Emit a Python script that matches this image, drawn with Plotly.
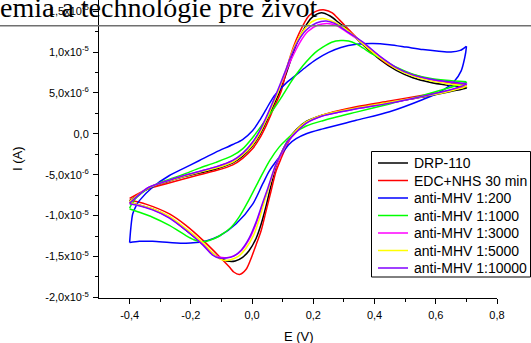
import numpy as np
import plotly.graph_objects as go

# ---------------- data (E in V, I in µA; each list is one closed CV loop) ----------------
series_names = ["DRP-110", "EDC+NHS 30 min", "anti-MHV 1:200", "anti-MHV 1:1000",
                "anti-MHV 1:3000", "anti-MHV 1:5000", "anti-MHV 1:10000"]
series_colors = ["#000000", "#FF0000", "#0000FF", "#00FF00", "#FF00FF", "#FFFF00", "#8000FF"]

E_drp = [-0.400, -0.340, -0.280, -0.227, -0.172, -0.118, -0.063, -0.031, 0.002, 0.024, 0.046, 0.068,
         0.092, 0.119, 0.140, 0.166, 0.195, 0.226, 0.255, 0.286, 0.307, 0.362, 0.417, 0.471, 0.525,
         0.580, 0.634, 0.700,
         0.700, 0.645, 0.558, 0.449, 0.340, 0.231, 0.177, 0.144, 0.122, 0.100, 0.078, 0.062, 0.046,
         0.030, 0.013, -0.010, -0.031, -0.055, -0.074, -0.095, -0.120, -0.161, -0.216, -0.270,
         -0.325, -0.379, -0.400]
I_drp = [-8.2, -6.7, -5.9, -5.3, -4.8, -4.3, -3.55, -2.75, -1.45, -0.2, 1.45, 3.3,
         5.3, 8.2, 10.5, 12.6, 14.2, 14.8, 14.4, 13.5, 12.9, 10.9, 9.1, 7.75, 6.85,
         6.3, 5.95, 5.65,
         5.6, 5.15, 4.5, 3.85, 3.2, 2.3, 1.5, 0.5, -0.5, -2.0, -4.0, -6.3, -8.8,
         -11.0, -12.8, -14.3, -15.1, -15.55, -15.6, -15.4, -14.9, -13.5, -11.8, -10.2,
         -9.2, -8.6, -8.35]

E_edc = [-0.400, -0.340, -0.280, -0.227, -0.172, -0.118, -0.063, -0.031, 0.002, 0.024, 0.046, 0.068,
         0.095, 0.115, 0.135, 0.155, 0.185, 0.210, 0.237, 0.262, 0.286, 0.307, 0.340, 0.395, 0.449,
         0.504, 0.558, 0.613, 0.660, 0.700,
         0.700, 0.645, 0.558, 0.449, 0.340, 0.231, 0.187, 0.155, 0.133, 0.115, 0.095, 0.078, 0.062,
         0.046, 0.030, 0.013, -0.005, -0.020, -0.041, -0.060, -0.074, -0.107, -0.161, -0.216,
         -0.270, -0.347, -0.400]
I_edc = [-7.9, -6.75, -6.1, -5.55, -5.0, -4.5, -3.8, -3.0, -1.8, -0.6, 1.0, 2.9,
         5.2, 8.2, 10.6, 12.4, 14.4, 15.0, 15.15, 14.8, 13.9, 13.1, 11.8, 9.9, 8.4,
         7.5, 6.9, 6.45, 6.15, 5.9,
         5.9, 5.3, 4.7, 4.0, 3.3, 2.3, 1.6, 0.8, -0.1, -1.3, -3.0, -4.6, -7.0,
         -9.4, -11.8, -13.6, -15.4, -16.6, -17.2, -16.9, -16.3, -15.0, -13.0, -11.2,
         -9.8, -8.6, -8.1]

E_200 = [-0.400, -0.396, -0.390, -0.380, -0.368, -0.325, -0.270, -0.227, -0.172, -0.118, -0.063,
         -0.031, 0.002, 0.024, 0.046, 0.068, 0.089, 0.111, 0.144, 0.177, 0.210, 0.250, 0.290, 0.340,
         0.395, 0.449, 0.504, 0.558, 0.610, 0.650, 0.680, 0.700,
         0.700, 0.694, 0.683, 0.660, 0.613, 0.558, 0.449, 0.340, 0.231, 0.177, 0.144, 0.122, 0.090,
         0.057, 0.035, 0.002, -0.052, -0.107, -0.150, -0.183, -0.216, -0.270, -0.325, -0.368, -0.400]
I_200 = [-13.3, -11.5, -9.8, -8.9, -8.17, -6.54, -5.1, -4.3, -3.27, -2.25, -1.31,
         -0.7, 0.4, 1.6, 3.0, 4.4, 5.35, 6.2, 7.2, 8.2, 9.1, 9.95, 10.55, 10.95,
         11.05, 10.9, 10.6, 10.3, 10.1, 10.0, 10.2, 10.7,
         10.6, 9.2, 7.7, 6.4, 5.1, 4.2, 2.7, 1.65, 0.6, 0.0, -0.6, -1.25, -2.8,
         -4.5, -6.1, -8.6, -11.0, -12.5, -13.1, -13.3, -13.4, -13.3, -13.15, -13.15, -13.3]

E_1000 = [-0.400, -0.385, -0.336, -0.281, -0.227, -0.172, -0.118, -0.063, -0.031, 0.002, 0.035, 0.068,
          0.100, 0.130, 0.155, 0.177, 0.205, 0.231, 0.260, 0.290, 0.315, 0.340, 0.362, 0.395, 0.417,
          0.471, 0.525, 0.580, 0.634, 0.700,
          0.700, 0.613, 0.558, 0.449, 0.340, 0.231, 0.177, 0.133, 0.110, 0.089, 0.057, 0.024, -0.009,
          -0.041, -0.070, -0.107, -0.140, -0.165, -0.190, -0.216, -0.270, -0.325, -0.368, -0.400]
I_1000 = [-9.1, -8.1, -6.6, -5.7, -5.0, -4.2, -3.5, -2.65, -1.85, -0.45, 1.2, 2.9,
          4.7, 6.5, 7.8, 8.8, 9.9, 10.6, 11.2, 11.4, 11.35, 11.0, 10.5, 9.7, 9.3,
          8.15, 7.3, 6.8, 6.55, 6.35,
          6.3, 5.3, 4.7, 3.65, 2.65, 1.6, 0.95, 0.0, -0.8, -1.6, -3.3, -5.6, -8.0,
          -10.1, -11.5, -12.5, -13.05, -13.2, -12.95, -12.45, -11.2, -10.2, -9.6, -9.2]

E_3000 = [-0.400, -0.340, -0.280, -0.227, -0.172, -0.118, -0.063, -0.031, 0.002, 0.024, 0.046, 0.068,
          0.092, 0.112, 0.128, 0.155, 0.182, 0.215, 0.245, 0.272, 0.307, 0.362, 0.417, 0.471, 0.525,
          0.580, 0.634, 0.700,
          0.700, 0.645, 0.558, 0.449, 0.340, 0.231, 0.177, 0.144, 0.117, 0.097, 0.077, 0.054, 0.037,
          0.015, -0.008, -0.033, -0.058, -0.083, -0.105, -0.130, -0.161, -0.216, -0.270, -0.325,
          -0.379, -0.400]
I_3000 = [-8.45, -6.6, -5.8, -5.15, -4.6, -4.05, -3.3, -2.45, -1.1, 0.2, 1.85, 3.75,
          5.8, 7.7, 9.1, 11.1, 12.5, 13.3, 13.5, 13.3, 12.5, 11.1, 9.45, 8.05, 7.15,
          6.65, 6.35, 6.1,
          6.05, 5.3, 4.55, 3.75, 3.05, 2.2, 1.3, 0.2, -1.0, -2.4, -4.0, -6.6, -8.4,
          -10.8, -12.8, -14.2, -14.9, -15.15, -15.1, -14.7, -13.5, -11.75, -10.25, -9.25,
          -8.65, -8.5]

E_5000 = [-0.400, -0.340, -0.280, -0.227, -0.172, -0.118, -0.063, -0.031, 0.002, 0.024, 0.046, 0.068,
          0.087, 0.114, 0.135, 0.162, 0.195, 0.231, 0.260, 0.286, 0.307, 0.362, 0.417, 0.471, 0.525,
          0.580, 0.634, 0.700,
          0.700, 0.645, 0.558, 0.449, 0.340, 0.231, 0.177, 0.144, 0.120, 0.098, 0.075, 0.057, 0.040,
          0.024, 0.005, -0.020, -0.045, -0.070, -0.096, -0.120, -0.161, -0.216, -0.270, -0.325,
          -0.379, -0.400]
I_5000 = [-8.3, -6.65, -5.85, -5.25, -4.7, -4.2, -3.45, -2.6, -1.3, 0.0, 1.7, 3.6,
          5.3, 8.2, 10.4, 12.3, 13.7, 14.1, 13.8, 13.3, 12.8, 11.0, 9.3, 7.95, 7.05,
          6.5, 6.15, 5.85,
          5.8, 5.2, 4.55, 3.85, 3.15, 2.3, 1.45, 0.4, -0.7, -2.2, -4.0, -6.3, -8.3,
          -10.4, -12.4, -14.0, -15.0, -15.4, -15.45, -14.9, -13.3, -11.6, -10.1, -9.15,
          -8.6, -8.4]

E_10000 = [-0.400, -0.340, -0.280, -0.227, -0.172, -0.118, -0.063, -0.031, 0.002, 0.024, 0.046, 0.068,
           0.090, 0.110, 0.124, 0.150, 0.177, 0.210, 0.242, 0.270, 0.307, 0.362, 0.417, 0.471, 0.525,
           0.580, 0.634, 0.700,
           0.700, 0.645, 0.558, 0.449, 0.340, 0.231, 0.177, 0.144, 0.115, 0.095, 0.075, 0.052, 0.035,
           0.013, -0.010, -0.035, -0.060, -0.085, -0.107, -0.130, -0.161, -0.216, -0.270, -0.325,
           -0.379, -0.400]
I_10000 = [-8.5, -6.6, -5.8, -5.15, -4.6, -4.05, -3.25, -2.4, -1.0, 0.3, 2.0, 3.9,
           5.9, 7.8, 9.2, 11.3, 12.7, 13.55, 13.8, 13.5, 12.6, 11.2, 9.5, 8.1, 7.2,
           6.7, 6.4, 6.15,
           6.1, 5.35, 4.6, 3.75, 3.05, 2.2, 1.3, 0.2, -1.0, -2.4, -4.0, -6.6, -8.4,
           -10.8, -12.8, -14.2, -14.95, -15.2, -15.2, -14.8, -13.6, -11.8, -10.3, -9.3,
           -8.7, -8.55]

series_E = [E_drp, E_edc, E_200, E_1000, E_3000, E_5000, E_10000]
series_I = [I_drp, I_edc, I_200, I_1000, I_3000, I_5000, I_10000]

x_tickvals = [-0.4, -0.2, 0.0, 0.2, 0.4, 0.6, 0.8]
x_ticktext = ["-0,4", "-0,2", "0,0", "0,2", "0,4", "0,6", "0,8"]
x_minor = [-0.3, -0.1, 0.1, 0.3, 0.5, 0.7]
y_tickvals = [-20, -15, -10, -5, 0, 5, 10, 15]
y_ticktext = ["-2,0x10<sup>-5</sup>", "-1,5x10<sup>-5</sup>", "-1,0x10<sup>-5</sup>",
              "-5,0x10<sup>-6</sup>", "0,0", "5,0x10<sup>-6</sup>", "1,0x10<sup>-5</sup>",
              "1,5x10<sup>-5</sup>"]
y_minor = [-17.5, -12.5, -7.5, -2.5, 2.5, 7.5, 12.5]

header_text = "emia a technológie pre život"

# ---------------- layout geometry ----------------
W, H = 531, 343
L, R, T, B = 99, 34, 0, 45
PW, PH = W - L - R, H - T - B


def px(x):
    return (x - L) / PW


def py(y):
    return (H - B - y) / PH


fig = go.Figure()
for name, color, E, I in zip(series_names, series_colors, series_E, series_I):
    k = int(np.argmax(E))
    for seg in (slice(0, k + 1), slice(k, None)):
        fig.add_trace(go.Scatter(x=E[seg], y=I[seg], mode="lines", name=name,
                                 line=dict(color=color, width=1.5, shape="spline", smoothing=0.8),
                                 showlegend=False, hoverinfo="skip"))

shapes = []
annotations = []

# legend (drawn manually to match compact row spacing)
shapes.append(dict(type="rect", xref="paper", yref="paper", x0=px(371.5), x1=px(530.5),
                   y0=py(277), y1=py(151.5), line=dict(color="black", width=1),
                   fillcolor="white", layer="above"))
row0, drow = 163, 17.5
for i, (name, color) in enumerate(zip(series_names, series_colors)):
    yy = row0 + i * drow
    shapes.append(dict(type="line", xref="paper", yref="paper", x0=px(378), x1=px(408),
                       y0=py(yy), y1=py(yy), line=dict(color=color, width=1.5), layer="above"))
    annotations.append(dict(xref="paper", yref="paper", x=px(412.5), y=py(yy), xanchor="left",
                            yanchor="middle", text=name, showarrow=False, borderpad=0,
                            font=dict(family="Liberation Sans, Arial", size=14, color="black")))

# header of the page the chart was cut from
shapes.append(dict(type="line", xref="paper", yref="paper", x0=px(0), x1=px(531),
                   y0=py(25.7), y1=py(25.7), line=dict(color="#707070", width=1.5), layer="above"))
annotations.append(dict(xref="paper", yref="paper", x=px(-1), y=py(8), xanchor="left",
                        yanchor="middle", text=header_text, showarrow=False, borderpad=0,
                        font=dict(family="Liberation Serif", size=28, color="black")))

# axis titles
annotations.append(dict(xref="paper", yref="paper", x=px(299), y=py(336), xanchor="center",
                        yanchor="middle", text="E (V)", showarrow=False, borderpad=0,
                        font=dict(family="Liberation Sans, Arial", size=13, color="black")))
annotations.append(dict(xref="paper", yref="paper", x=px(17.5), y=py(158.5), xanchor="center",
                        yanchor="middle", text="I (A)", textangle=-90, showarrow=False, borderpad=0,
                        font=dict(family="Liberation Sans, Arial", size=13, color="black")))

tickfont = dict(family="Liberation Sans, Arial", size=11, color="black")
fig.update_layout(
    width=W, height=H, autosize=False,
    margin=dict(l=L, r=R, t=T, b=B, pad=0),
    paper_bgcolor="white", plot_bgcolor="white",
    showlegend=False,
    shapes=shapes, annotations=annotations,
    xaxis=dict(range=[-0.5, 0.8], tickvals=x_tickvals, ticktext=x_ticktext,
               ticks="outside", ticklen=5, tickwidth=1, tickcolor="black",
               showline=True, linecolor="black", linewidth=1, mirror=False,
               showgrid=False, zeroline=False, tickfont=tickfont, ticklabelstandoff=2,
               minor=dict(tickvals=x_minor, ticks="outside", ticklen=3, tickwidth=1,
                          tickcolor="black", showgrid=False)),
    yaxis=dict(range=[-20.08, 16.36], tickvals=y_tickvals, ticktext=y_ticktext,
               ticks="outside", ticklen=5, tickwidth=1, tickcolor="black",
               showline=True, linecolor="black", linewidth=1, mirror=False,
               showgrid=False, zeroline=False, tickfont=tickfont, ticklabelstandoff=2,
               minor=dict(tickvals=y_minor, ticks="outside", ticklen=3, tickwidth=1,
                          tickcolor="black", showgrid=False)),
)

fig.write_html("out.html")
